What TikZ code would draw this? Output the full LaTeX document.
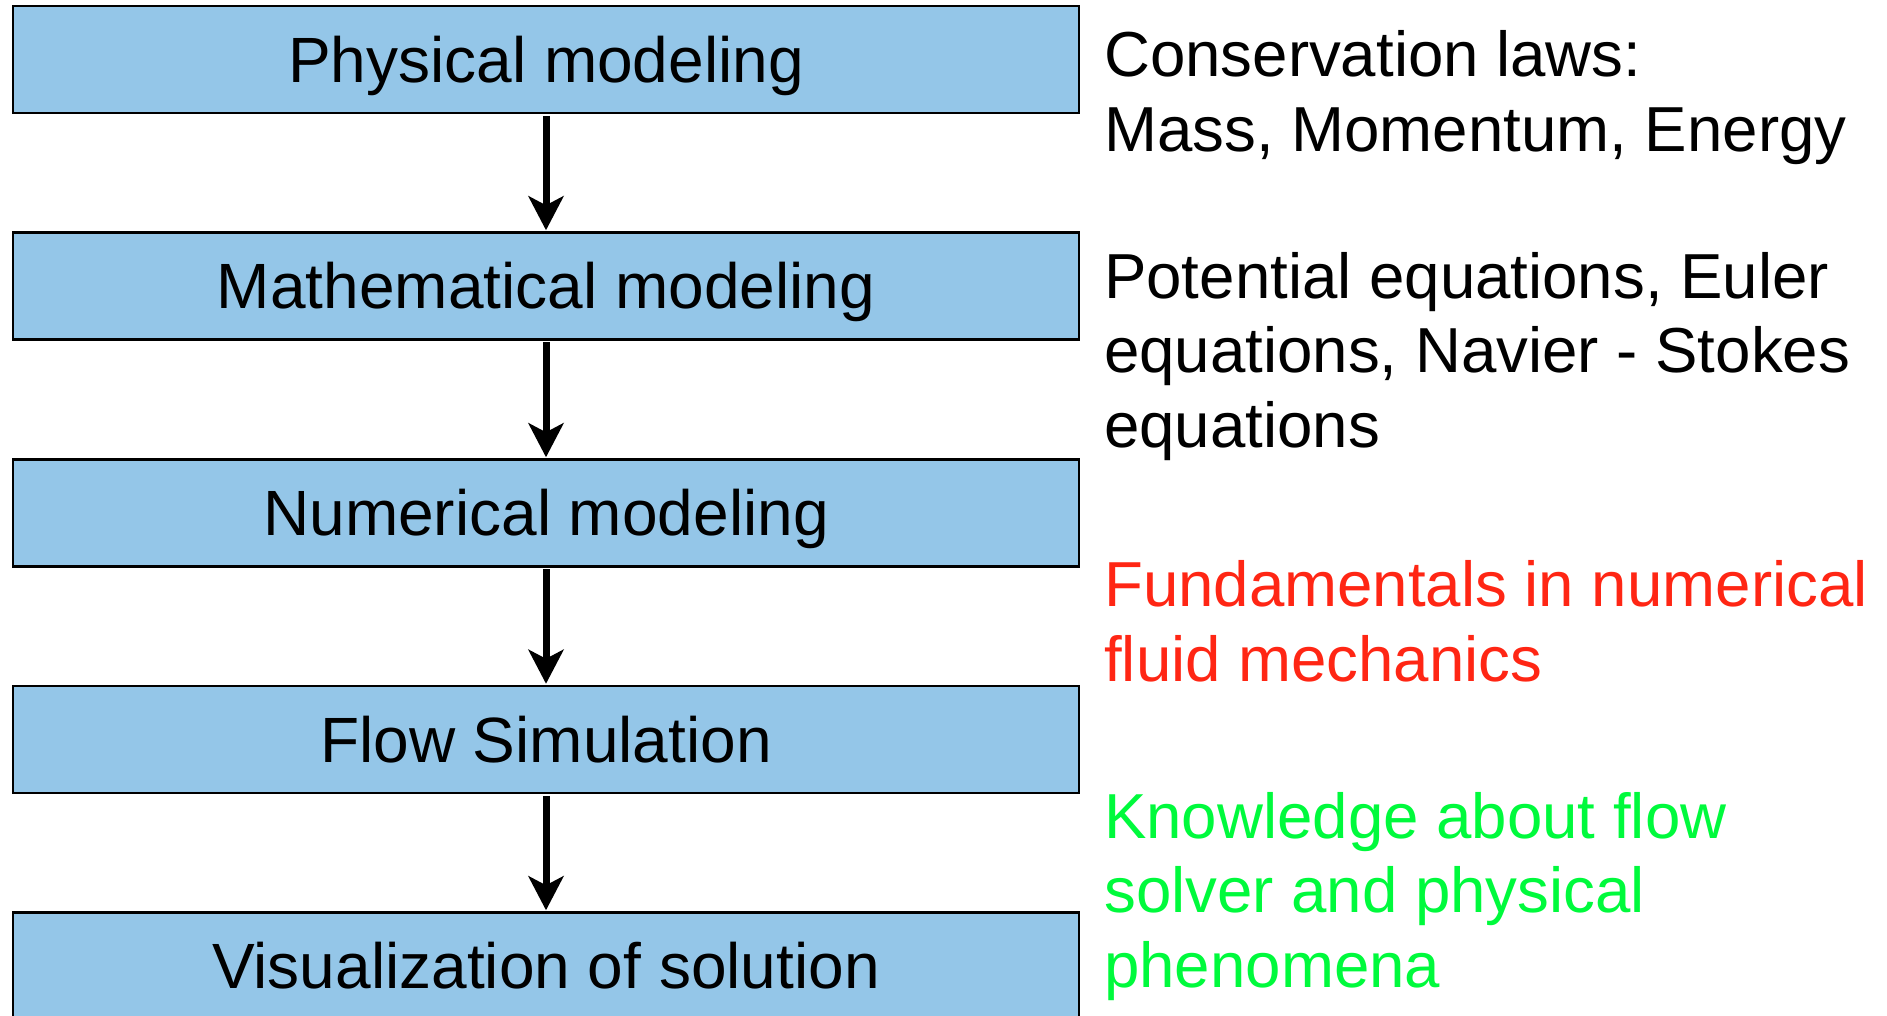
\documentclass[tikz,border=0pt]{standalone}
\usepackage{fontspec}
\setmainfont{Liberation Sans}
\usetikzlibrary{arrows.meta}
\definecolor{boxblue}{RGB}{148,198,232}
\definecolor{notered}{RGB}{255,38,20}
\definecolor{notegreen}{RGB}{0,250,60}
\begin{document}
\begin{tikzpicture}[x=1pt,y=-1pt,
  stage/.style={draw=black,line width=2.5pt,fill=boxblue,
    minimum width=1066pt,minimum height=107pt,inner sep=0pt,
    text height=45pt,text depth=0pt,
    font=\fontsize{64}{75}\selectfont},
  note/.style={anchor=base west,align=left,inner sep=0pt,
    font=\fontsize{63.6}{74.5}\selectfont},
  flow/.style={line width=7pt,
    -{Stealth[length=34pt,width=35pt,inset=9pt]},
    shorten <=1.5pt,shorten >=1pt}]
\useasboundingbox (0,0) rectangle (1887,1015);
% process stages
\node[stage] (phys) at (546,59.5)  {Physical modeling};
\node[stage] (math) at (546,286)   {Mathematical modeling};
\node[stage] (num)  at (546,513)   {Numerical modeling};
\node[stage] (sim)  at (546,739.5) {Flow Simulation};
\node[stage] (vis)  at (546,966)   {Visualization of solution};
% arrows between stages
\draw[flow] (phys.south) -- (math.north);
\draw[flow] (math.south) -- (num.north);
\draw[flow] (num.south)  -- (sim.north);
\draw[flow] (sim.south)  -- (vis.north);
% side notes (anchored at the baseline of their last line)
\node[note] (cons) at (1104,151) {Conservation laws:\\Mass, Momentum, Energy};
\node[note] (eqs)  at (1104,447) {Potential equations, Euler\\equations, Navier - Stokes\\equations};
\node[note,text=notered] (fund) at (1104,681) {Fundamentals in numerical\\fluid mechanics};
\node[note,text=notegreen] (know) at (1104,987) {Knowledge about flow\\solver and physical\\phenomena};
\end{tikzpicture}
\end{document}
